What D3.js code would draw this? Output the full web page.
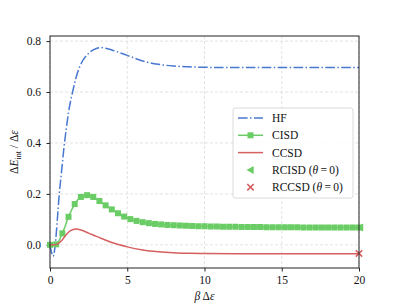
<!DOCTYPE html>
<html>
<head>
<meta charset="utf-8">
<script src="https://cdn.jsdelivr.net/npm/d3@7"></script>
<style>
  body { margin: 0; background: #fff; }
  svg text { font-family: "Liberation Serif", "Times New Roman", "DejaVu Serif", serif !important; }
</style>
</head>
<body>
<svg id="chart" width="399" height="307"></svg>
<script>
// values
const hfX = [0, 0.1, 0.2, 0.3, 0.4, 0.5, 0.6, 0.7, 0.8, 0.9, 1.0, 1.2, 1.5, 1.8, 2.0, 2.5, 3.0, 3.3, 3.6, 4.0, 5.0, 6.0, 7.0, 8.0, 9.0, 10, 12, 15, 20];
const hfY = [0.0, -0.03, -0.045, -0.02, 0.04, 0.12, 0.2, 0.26, 0.32, 0.38, 0.43, 0.52, 0.61, 0.68, 0.71, 0.752, 0.771, 0.775, 0.772, 0.765, 0.744, 0.722, 0.709, 0.702, 0.699, 0.697, 0.696, 0.696, 0.696];

const cisdX = [0, 0.4, 0.8, 1.2, 1.6, 2.0, 2.4, 2.8, 3.2, 3.6, 4.0, 4.4, 4.8, 5.2, 5.6, 6.0, 6.4, 6.8, 7.2, 7.6, 8.0, 8.4, 8.8, 9.2, 9.6, 10.0,
  10.4, 10.8, 11.2, 11.6, 12.0, 12.4, 12.8, 13.2, 13.6, 14.0, 14.4, 14.8, 15.2, 15.6, 16.0, 16.4, 16.8, 17.2, 17.6, 18.0, 18.4, 18.8, 19.2, 19.6, 20.0];
const cisdY = [0.0, 0.002, 0.045, 0.11, 0.16, 0.188, 0.195, 0.188, 0.172, 0.155, 0.139, 0.124, 0.111, 0.101, 0.094, 0.089, 0.085, 0.082, 0.080, 0.078, 0.077, 0.076, 0.075, 0.074, 0.073, 0.073,
  0.072, 0.072, 0.071, 0.071, 0.071, 0.070, 0.070, 0.070, 0.070, 0.069, 0.069, 0.069, 0.069, 0.069, 0.069, 0.068, 0.068, 0.068, 0.068, 0.068, 0.068, 0.068, 0.068, 0.068, 0.068];

const ccsdX = [0, 0.3, 0.5, 0.8, 1.0, 1.3, 1.7, 2.0, 2.5, 3.0, 3.5, 4.0, 4.5, 5.0, 6.0, 7.0, 8.0, 9.0, 10, 12, 15, 20];
const ccsdY = [0.0, 0.0, 0.004, 0.02, 0.036, 0.055, 0.062, 0.058, 0.046, 0.033, 0.021, 0.009, 0.0, -0.008, -0.02, -0.027, -0.031, -0.033, -0.034, -0.035, -0.035, -0.035];

const rcisd = { x: 20, y: 0.068 };
const rccsd = { x: 20, y: -0.034 };

const xTicks = [0, 5, 10, 15, 20];
const yTicks = [0.0, 0.2, 0.4, 0.6, 0.8];
const legendNames = ["HF", "CISD", "CCSD", "RCISD", "RCCSD"];

const colors = { blue: "#4878d0", green: "#6acc64", red: "#d65f5f" };
const dashDot = "9.6,2.4,1.5,2.4";
const fs = 11.5;

const svg = d3.select("#chart");
const margin = { top: 36, right: 40, bottom: 39, left: 50 };
const width = 399 - margin.left - margin.right;
const height = 307 - margin.top - margin.bottom;

const x = d3.scaleLinear().domain([0, 20]).range([0, width]);
const y = d3.scaleLinear().domain([-0.091, 0.82]).range([height, 0]);

const g = svg.append("g").attr("transform", `translate(${margin.left},${margin.top})`);

// grid
g.append("g").selectAll("line").data(xTicks).join("line")
  .attr("x1", d => x(d)).attr("x2", d => x(d)).attr("y1", 0).attr("y2", height)
  .attr("stroke", "#dcdcdc").attr("stroke-width", 0.8).attr("stroke-dasharray", "3,2");
g.append("g").selectAll("line").data(yTicks).join("line")
  .attr("y1", d => y(d)).attr("y2", d => y(d)).attr("x1", 0).attr("x2", width)
  .attr("stroke", "#dcdcdc").attr("stroke-width", 0.8).attr("stroke-dasharray", "3,2");

// axes
const xAxis = g.append("g").attr("transform", `translate(0,${height})`)
  .call(d3.axisBottom(x).tickValues(xTicks).tickSize(3.5).tickPadding(4.5).tickFormat(d3.format("d")));
const yAxis = g.append("g")
  .call(d3.axisLeft(y).tickValues(yTicks).tickSize(3.5).tickPadding(5.5).tickFormat(d3.format(".1f")));
[xAxis, yAxis].forEach(a => {
  a.select(".domain").remove();
  a.selectAll("line").attr("stroke", "#222");
  a.selectAll("text").attr("font-size", fs).attr("fill", "#111");
});

const line = d3.line().x(d => x(d[0])).y(d => y(d[1])).curve(d3.curveMonotoneX);

// HF
g.append("path").datum(d3.zip(hfX, hfY)).attr("d", line)
  .attr("fill", "none").attr("stroke", colors.blue).attr("stroke-width", 1.5)
  .attr("stroke-dasharray", dashDot);

// CISD
const cisd = d3.zip(cisdX, cisdY);
g.append("path").datum(cisd).attr("d", line)
  .attr("fill", "none").attr("stroke", colors.green).attr("stroke-width", 1.5);
g.append("g").selectAll("rect").data(cisd).join("rect")
  .attr("x", d => x(d[0]) - 3).attr("y", d => y(d[1]) - 3)
  .attr("width", 6).attr("height", 6).attr("fill", colors.green);

// CCSD
g.append("path").datum(d3.zip(ccsdX, ccsdY)).attr("d", line)
  .attr("fill", "none").attr("stroke", colors.red).attr("stroke-width", 1.5);

// reference points
const tri = (cx, cy, s) => `M${cx - s},${cy} L${cx + s * 0.8},${cy - s} L${cx + s * 0.8},${cy + s} Z`;
const cross = (cx, cy, s) => `M${cx - s},${cy - s} L${cx + s},${cy + s} M${cx - s},${cy + s} L${cx + s},${cy - s}`;

g.append("path").attr("d", tri(x(rcisd.x) + 1, y(rcisd.y), 4)).attr("fill", colors.green);
g.append("path").attr("d", cross(x(rccsd.x), y(rccsd.y), 3.2))
  .attr("stroke", colors.red).attr("stroke-width", 1.6).attr("fill", "none");

// frame
g.append("rect").attr("width", width).attr("height", height)
  .attr("fill", "none").attr("stroke", "#222").attr("stroke-width", 1);

// legend
const lg = svg.append("g").attr("transform", "translate(233,108)");
lg.append("rect").attr("width", 120).attr("height", 90).attr("rx", 2.5)
  .attr("fill", "white").attr("fill-opacity", 0.85).attr("stroke", "#d0d0d0").attr("stroke-width", 0.8);
const rowY = i => 10 + i * 17.3;
const hx1 = 5, hx2 = 30, hmid = 17.5;
lg.append("line").attr("x1", hx1).attr("x2", hx2).attr("y1", rowY(0)).attr("y2", rowY(0))
  .attr("stroke", colors.blue).attr("stroke-width", 1.5).attr("stroke-dasharray", dashDot);
lg.append("line").attr("x1", hx1).attr("x2", hx2).attr("y1", rowY(1)).attr("y2", rowY(1))
  .attr("stroke", colors.green).attr("stroke-width", 1.5);
lg.append("rect").attr("x", hmid - 3).attr("y", rowY(1) - 3).attr("width", 6).attr("height", 6).attr("fill", colors.green);
lg.append("line").attr("x1", hx1).attr("x2", hx2).attr("y1", rowY(2)).attr("y2", rowY(2))
  .attr("stroke", colors.red).attr("stroke-width", 1.5);
lg.append("path").attr("d", tri(hmid, rowY(3), 4)).attr("fill", colors.green);
lg.append("path").attr("d", cross(hmid, rowY(4), 3.2))
  .attr("stroke", colors.red).attr("stroke-width", 1.6).attr("fill", "none");

legendNames.forEach((name, i) => {
  const t = lg.append("text").attr("x", 39).attr("y", rowY(i) + 4)
    .attr("font-size", fs).attr("fill", "#111").text(name);
  if (i >= 3) {
    t.append("tspan").text(" (");
    t.append("tspan").attr("font-style", "italic").text("θ");
    t.append("tspan").text("\u2009=\u20090)");
  }
});

// axis labels
const xl = svg.append("text").attr("x", margin.left + width / 2).attr("y", 300)
  .attr("text-anchor", "middle").attr("font-size", fs).attr("fill", "#111");
xl.append("tspan").attr("font-style", "italic").text("β");
xl.append("tspan").text(" Δ");
xl.append("tspan").attr("font-style", "italic").text("ε");

const yl = svg.append("text")
  .attr("transform", `translate(18,${margin.top + height / 2}) rotate(-90)`)
  .attr("text-anchor", "middle").attr("font-size", fs).attr("fill", "#111");
yl.append("tspan").text("Δ");
yl.append("tspan").attr("font-style", "italic").text("E");
yl.append("tspan").attr("font-size", 8).attr("dy", 2.5).text("int");
yl.append("tspan").attr("dy", -2.5).text(" / Δ");
yl.append("tspan").attr("font-style", "italic").text("ε");
</script>
</body>
</html>
